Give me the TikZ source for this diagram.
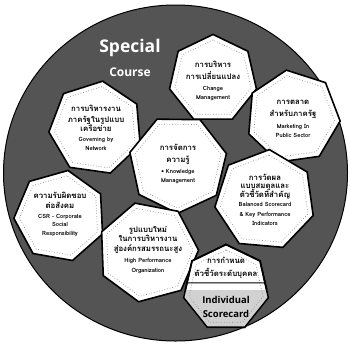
\documentclass[tikz,border=0pt]{standalone}
\usepackage{fontspec}
\setmainfont{Open Sans}
\newfontfamily\thaifont[Script=Thai]{Loma}
\usetikzlibrary{shapes.geometric,calc}
\tikzset{
  hep/.style={regular polygon, regular polygon sides=7, draw=black, line width=1.6pt, fill=white, inner sep=0pt},
  hepin/.style={regular polygon, regular polygon sides=7, draw=black!45, dotted, line width=0.7pt, inner sep=0pt},
  txt/.style={align=center, inner sep=0pt, font=\thaifont\bfseries\fontsize{7.8}{12.5}\selectfont},
}
\newcommand\EN[1]{{\fontsize{5.8}{7.5}\selectfont #1}}
\newcommand\hept[6]{%
  \node[hep, minimum size={2.2*#3*1pt}, rotate=#4] (#1) at (#2) {};
  \node[hepin, minimum size={(2.2*#3-11)*1pt}, rotate=#4] (#1i) at (#2) {};
  \node[txt] (#1t) at ($(#2)+(0,#5)$) {#6};
}
\begin{document}
\begin{tikzpicture}[x=1pt,y=-1pt]
\useasboundingbox (0,0) rectangle (350,349);
\fill[white] (0,0) rectangle (350,349);
\node[ellipse, minimum width=344pt, minimum height=336pt, fill=black!67, draw=black, line width=1pt] (bg) at (175.5,173) {};
\node[text=white, font=\bfseries\fontsize{17.5}{17.5}\selectfont] (sp) at (130,48) {Special};
\node[text=white, font=\bfseries\fontsize{12}{12}\selectfont] (co) at (130,72) {Course};

\hept{chg}{213,79}{40.5}{0}{2}{การบริหาร\\การเปลี่ยนแปลง\\[-2pt]\EN{Change}\\[-3pt]\EN{Management}}
\hept{mkt}{293,117}{43}{8}{2}{การตลาด\\สำหรับภาครัฐ\\[-1pt]\EN{Marketing In}\\[-3pt]\EN{Public Sector}}
\hept{gov}{96,128}{43}{-8}{0}{การบริหารงาน\\[-2pt]ภาครัฐในรูปแบบ\\[-3pt]เครือข่าย\\[-3pt]\EN{Governing by}\\[-3pt]\EN{Network}}
\hept{knw}{178,164}{45}{25}{0}{การจัดการ\\ความรู้\\[-2pt]\EN{• Knowledge}\\[-3pt]\EN{Management}}
\hept{csr}{60,216}{42}{-10}{-2}{ความรับผิดชอบ\\[-2pt]ต่อสังคม\\[-3pt]\EN{CSR - Corporate}\\[-4pt]\EN{Social}\\[-4pt]\EN{Responsibility}}
\hept{hpo}{148,252}{46}{15}{-2}{รูปแบบใหม่\\[-3pt]ในการบริหารงาน\\[-3pt]สู่องค์กรสมรรถนะสูง\\[-1pt]\EN{High Performance}\\[-3pt]\EN{Organization}}
\hept{bsc}{265,200}{46}{-5}{0}{การวัดผล\\[-4pt]แบบสมดุลและ\\[-4pt]ตัวชี้วัดที่สำคัญ\\[-3pt]\EN{Balanced Scorecard}\\[-3pt]\EN{\& Key Performance}\\[-3pt]\EN{Indicators}}
% individual scorecard
\node[hep, minimum size=87pt] (ind) at (226,288) {};
\begin{scope}
  \clip (ind.corner 1) -- (ind.corner 2) -- (ind.corner 3) -- (ind.corner 4) -- (ind.corner 5) -- (ind.corner 6) -- (ind.corner 7) -- cycle;
  \fill[black!18] (180,290) rectangle (275,340);
\end{scope}
\node[hepin, minimum size=76pt] (indi) at (226,288) {};
\node[hep, fill=none, minimum size=87pt] (indo) at (226,288) {};
\coordinate (indl) at ($(ind.corner 2)!0.6!(ind.corner 3)$);
\coordinate (indr) at ($(ind.corner 7)!0.6!(ind.corner 6)$);
\draw[line width=0.8pt] (indl) -- (indr);
\node[txt] (indt) at (226,268) {การกำหนด\\ตัวชี้วัดระดับบุคคล};
\node[font=\bfseries\fontsize{9.5}{9.5}\selectfont] (indn) at (226,300) {Individual};
\node[font=\bfseries\fontsize{9.5}{9.5}\selectfont] (inds) at (226,314) {Scorecard};
\end{tikzpicture}
\end{document}
